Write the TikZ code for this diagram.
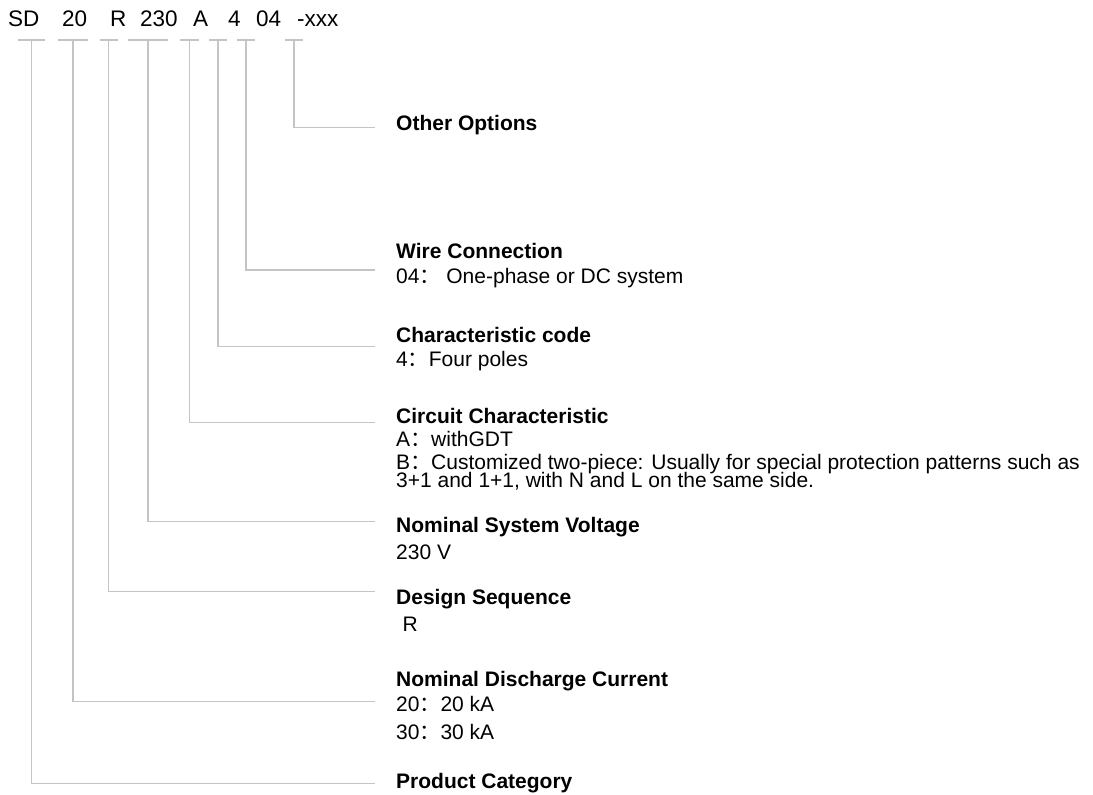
\documentclass[tikz,border=0pt]{standalone}
\usepackage{fontspec}
\setmainfont{Liberation Sans}
\newfontfamily\cjk{Noto Sans CJK SC}
\newcommand{\fc}{{\cjk ：}}
\definecolor{conncol}{RGB}{196,196,196}
\begin{document}
\begin{tikzpicture}[x=1pt,y=-1pt,
  connector/.style={draw=conncol, line width=1.4pt},
  code/.style={anchor=base west, inner sep=0pt, font=\fontsize{22.5}{27}\selectfont},
  title/.style={anchor=base west, inner sep=0pt, font=\fontsize{21}{25}\selectfont\bfseries},
  desc/.style={anchor=base west, inner sep=0pt, font=\fontsize{21}{25}\selectfont}]
\useasboundingbox (0,0) rectangle (1093,795);
% code row
\node[code] (cSD)  at (8,26.7)   {SD};
\node[code] (c20)  at (62,26.7)  {20};
\node[code] (cR)   at (110,26.7) {R};
\node[code] (c230) at (140,26.7) {230};
\node[code] (cA)   at (193,26.7) {A};
\node[code] (c4)   at (228,26.7) {4};
\node[code] (c04)  at (256,26.7) {04};
\node[code] (cX)   at (297,26.7) {-xxx};
% bar centres
\coordinate (bSD)  at (31.5,40);
\coordinate (b20)  at (73,40);
\coordinate (bR)   at (108.5,40);
\coordinate (b230) at (148,40);
\coordinate (bA)   at (189.5,40);
\coordinate (b4)   at (218,40);
\coordinate (b04)  at (246,40);
\coordinate (bX)   at (294,40);
% line ends
\coordinate (eSD)  at (375,783.3);
\coordinate (e20)  at (375,701.7);
\coordinate (eR)   at (375,591.7);
\coordinate (e230) at (375,521.7);
\coordinate (eA)   at (375,422.7);
\coordinate (e4)   at (375,346.7);
\coordinate (e04)  at (375,270);
\coordinate (eX)   at (375,127.7);
% bars
\draw[connector] ([xshift=-13.5pt]bSD) -- ([xshift=13.5pt]bSD);
\draw[connector] ([xshift=-15pt]b20) -- ([xshift=15pt]b20);
\draw[connector] ([xshift=-9pt]bR) -- ([xshift=9pt]bR);
\draw[connector] ([xshift=-20pt]b230) -- ([xshift=20pt]b230);
\draw[connector] ([xshift=-9.5pt]bA) -- ([xshift=9.5pt]bA);
\draw[connector] ([xshift=-9pt]b4) -- ([xshift=9pt]b4);
\draw[connector] ([xshift=-9pt]b04) -- ([xshift=9pt]b04);
\draw[connector] ([xshift=-9pt]bX) -- ([xshift=9pt]bX);
% connectors
\draw[connector] (bSD) |- (eSD);
\draw[connector] (b20) |- (e20);
\draw[connector] (bR) |- (eR);
\draw[connector] (b230) |- (e230);
\draw[connector] (bA) |- (eA);
\draw[connector] (b4) |- (e4);
\draw[connector] (b04) |- (e04);
\draw[connector] (bX) |- (eX);
% labels
\node[title] (tX) at (396,130.7) {Other Options};
\node[title] (t04) at (396,258.3) {Wire Connection};
\node[desc] (d04) at (396,283.3) {04\fc{} One-phase or DC system};
\node[title] (t4) at (396,342.3) {Characteristic code};
\node[desc] (d4) at (396,366) {4\fc{}Four poles};
\node[title] (tA) at (396,423.3) {Circuit Characteristic};
\node[desc] (dA1) at (396,446) {A\fc{}withGDT};
\node[desc] (dA2) at (396,469) {B\fc{}Customized two-piece: Usually for special protection patterns such as};
\node[desc] (dA3) at (396,487) {3+1 and 1+1, with N and L on the same side.};
\node[title] (t230) at (396,532.7) {Nominal System Voltage};
\node[desc] (d230) at (396,559.3) {230 V};
\node[title] (tR) at (396,604.3) {Design Sequence};
\node[desc] (dR) at (402.5,631) {R};
\node[title] (t20) at (396,686) {Nominal Discharge Current};
\node[desc] (d20a) at (396,711.7) {20\fc{}20 kA};
\node[desc] (d20b) at (396,739) {30\fc{}30 kA};
\node[title] (tSD) at (396,788.3) {Product Category};
\end{tikzpicture}
\end{document}
